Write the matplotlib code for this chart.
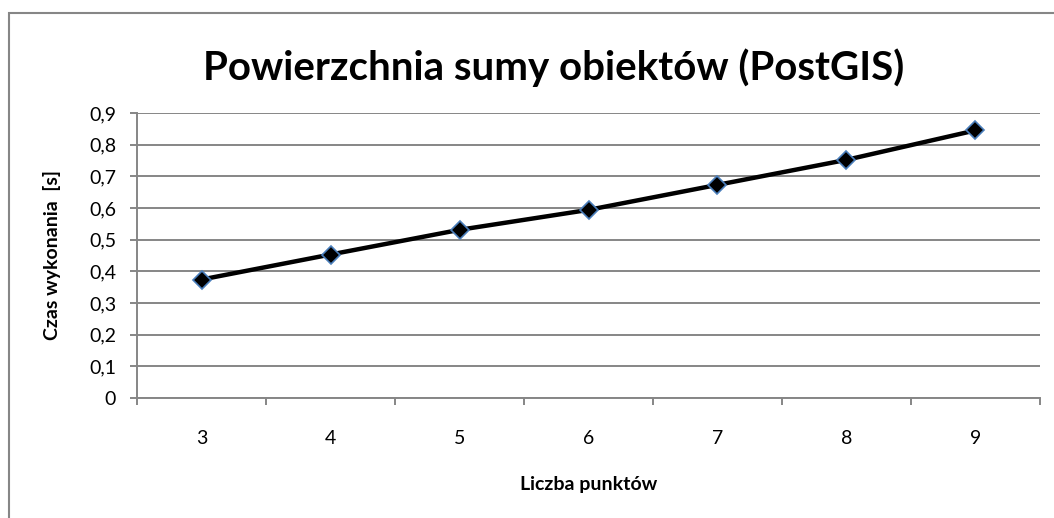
import numpy as np
import matplotlib.pyplot as plt
from matplotlib.patches import Rectangle
from matplotlib.ticker import FuncFormatter, FixedLocator

plt.rcParams['font.family'] = ['Lato', 'DejaVu Sans']

# data
points = [3, 4, 5, 6, 7, 8, 9]
times = [0.374, 0.453, 0.531, 0.594, 0.673, 0.752, 0.845]

grey = '#868686'

fig = plt.figure(figsize=(10.54, 5.18), dpi=100)
ax = fig.add_axes([0.130, 0.2317, 0.8567, 0.5502])

# outer chart frame (cut off at right and bottom like the screenshot)
fig.patches.append(Rectangle((9 / 1054, -0.1), 1.2, (518 - 13) / 518 + 0.1,
                             transform=fig.transFigure, fill=False,
                             edgecolor=grey, linewidth=1.5))

x = np.arange(len(points))
ax.plot(x, times, color='black', linewidth=3.2, marker='D', markersize=9,
        markerfacecolor='black', markeredgecolor='#4a7ebb', markeredgewidth=1.2,
        zorder=3)

ax.set_xlim(-0.5, len(points) - 0.5)
ax.set_ylim(0, 0.9)
ax.set_yticks(np.arange(0, 0.91, 0.1))
ax.yaxis.set_major_formatter(FuncFormatter(
    lambda v, p: '0' if abs(v) < 1e-9 else f'{v:.1f}'.replace('.', ',')))
ax.grid(axis='y', color=grey, linewidth=1.4)
ax.set_axisbelow(True)

ax.set_xticks(x)
ax.set_xticklabels([str(p) for p in points])
ax.xaxis.set_minor_locator(FixedLocator(np.arange(-0.5, len(points), 1.0)))
ax.tick_params(axis='x', which='major', length=0, pad=23, labelsize=14)
ax.tick_params(axis='x', which='minor', length=5, width=1.4, color=grey, direction='out')
ax.tick_params(axis='y', length=5, width=1.4, color=grey, direction='out', labelsize=14, pad=10)

for s in ['top', 'right']:
    ax.spines[s].set_visible(False)
for s in ['left', 'bottom']:
    ax.spines[s].set_color(grey)
    ax.spines[s].set_linewidth(1.4)

ax.set_xlabel('Liczba punktów', fontsize=14, fontweight='bold', va='center')
ax.xaxis.set_label_coords(0.5, -0.305)
ax.set_ylabel('Czas wykonania  [s]', fontsize=14, fontweight='bold', va='center')
ax.yaxis.set_label_coords(-0.094, 0.5)
fig.text(0.525, 0.869, 'Powierzchnia sumy obiektów (PostGIS)', ha='center', va='center',
         fontsize=29, fontweight='bold')

fig.savefig('out.png', dpi=100, facecolor='white')
